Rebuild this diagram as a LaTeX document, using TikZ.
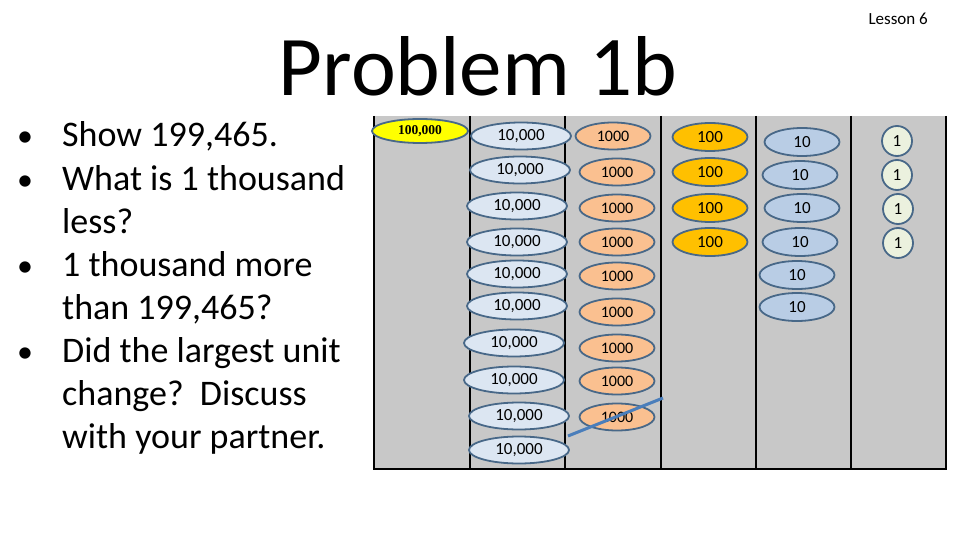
\documentclass[tikz,border=0pt]{standalone}
\usepackage{fontspec}
\setmainfont{Carlito}
\newfontfamily\serifnum{Liberation Serif}
\usetikzlibrary{shapes.geometric}
\definecolor{bggray}{RGB}{200,200,200}
\definecolor{rimc}{RGB}{72,104,136}
\definecolor{tthou}{RGB}{220,230,242}
\definecolor{thou}{RGB}{250,192,144}
\definecolor{hund}{RGB}{255,192,0}
\definecolor{tens}{RGB}{185,205,229}
\definecolor{ones}{RGB}{235,241,222}
\definecolor{hthou}{RGB}{255,255,0}
\definecolor{slash}{RGB}{74,126,187}
\tikzset{
  x=1pt, y=-1pt,
  disc/.style={ellipse, draw=rimc, line width=1.8pt, inner sep=0pt, minimum width=75pt, minimum height=27pt, font=\fontsize{17}{17}\selectfont},
  tthoudisc/.style={disc, fill=tthou, minimum width=100pt},
  thoudisc/.style={disc, fill=thou, font=\fontsize{16}{16}\selectfont},
  hunddisc/.style={disc, fill=hund, minimum height=28pt},
  tensdisc/.style={disc, fill=tens, minimum height=28pt},
  onesdisc/.style={circle, draw=rimc, line width=1.8pt, fill=ones, inner sep=0pt, minimum size=30pt, font=\fontsize{17}{17}\selectfont},
  hkdisc/.style={disc, fill=hthou, minimum width=96pt, minimum height=24pt, font=\serifnum\bfseries\fontsize{13.5}{13.5}\selectfont},
  divider/.style={black, line width=2pt},
  bullettext/.style={anchor=base west, inner sep=0pt, font=\fontsize{36}{36}\selectfont},
  bulletdot/.style={anchor=base west, inner sep=0pt, font=\fontsize{32}{32}\selectfont},
}
\begin{document}
\begin{tikzpicture}
\useasboundingbox (0,0) rectangle (960,540);
% title
\node[anchor=base, inner sep=0pt, font=\fontsize{85}{85}\selectfont] (title) at (478,96) {Problem 1b};
\node[anchor=base east, inner sep=0pt, font=\fontsize{17}{17}\selectfont] (lesson) at (928,25) {Lesson 6};
% bullets
\node[bullettext] (l1) at (62,147) {Show 199,465.};
\node[bullettext] (l2) at (62,190) {What is 1 thousand};
\node[bullettext] (l3) at (62,233) {less?};
\node[bullettext] (l4) at (62,276) {1 thousand more};
\node[bullettext] (l5) at (62,319) {than 199,465?};
\node[bullettext] (l6) at (62,362) {Did the largest unit};
\node[bullettext] (l7) at (62,405) {change?\ \ Discuss};
\node[bullettext] (l8) at (62,448) {with your partner.};
\foreach \yy/\nm in {147/m1,190/m2,276/m3,362/m4}
  \node[bulletdot] (\nm) at (17,\yy) {•};
% chart
\fill[bggray] (374,116) rectangle (946,469);
\foreach \xx in {374,470,565,661,756,851,946}
  \draw[divider] (\xx,116) -- (\xx,469);
\draw[divider] (373,469) -- (947,469);
% hundred thousand
\node[hkdisc] (hk) at (420,131) {100,000};
% ten thousands
\foreach \i/\xx/\yy in {1/521/136,2/520/170,3/517/206,4/517/242,5/517/274,6/517/306,7/514/343,8/514/380,9/519/416,10/519/450}
  \node[tthoudisc] (t\i) at (\xx,\yy) {10,000};
% thousands
\foreach \i/\xx/\yy in {1/613/136,2/617/172,3/617/208,4/617/242,5/617/276,6/617/312,7/617/348,8/617/381,9/617/417}
  \node[thoudisc] (k\i) at (\xx,\yy) {1000};
% hundreds
\foreach \i/\yy in {1/137,2/172,3/208,4/242}
  \node[hunddisc] (h\i) at (710,\yy) {100};
% tens
\foreach \i/\xx/\yy in {1/802/142,2/800/175,3/802/208,4/800/242,5/797/275,6/797/307}
  \node[tensdisc] (d\i) at (\xx,\yy) {10};
% ones
\foreach \i/\xx/\yy in {1/897/141,2/897/175,3/898/209,4/898/243}
  \node[onesdisc] (o\i) at (\xx,\yy) {1};
% slash line
\coordinate (s1) at (568,436);
\coordinate (s2) at (663,398);
\draw[slash, line width=3pt] (s1) -- (s2);
\end{tikzpicture}
\end{document}
